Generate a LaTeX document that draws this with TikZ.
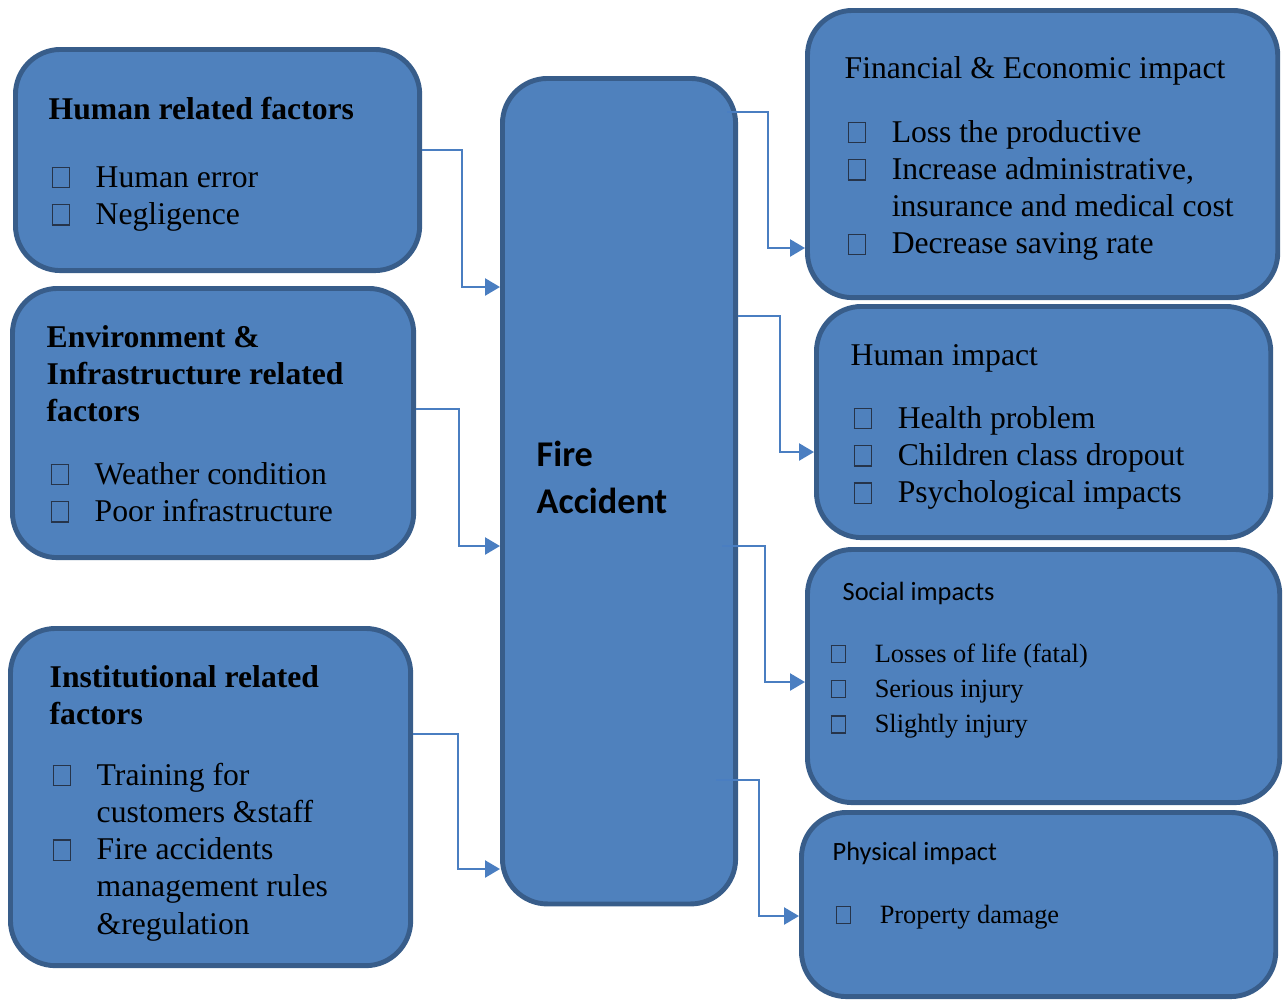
\documentclass[tikz,border=0pt]{standalone}
\usepackage{fontspec}
\setmainfont{Liberation Serif}
\newfontfamily\calibri{Carlito}
\usetikzlibrary{arrows.meta}
\usetikzlibrary{calc}
\definecolor{boxfill}{RGB}{79,129,189}
\definecolor{boxline}{RGB}{56,93,138}
\definecolor{linkblue}{RGB}{74,126,193}
\definecolor{bxline}{RGB}{38,52,74}
\newcommand{\fsA}{\fontsize{9}{10.6}\selectfont}
\newcommand{\fsB}{\fontsize{7.5}{10}\selectfont}
\newcommand{\bx}{\textcolor{bxline}{\fboxsep=0pt\fboxrule=0.35pt\fbox{\rule{0pt}{0.6em}\hspace{0.5em}}}}
\newcommand{\itm}{\makebox[0.44cm][l]{\bx}}
\tikzset{blk/.style = {draw=boxline, fill=boxfill, line width=1.4pt, rounded corners=0.45cm, inner sep=0pt, anchor=north west}}
\tikzset{txt/.style = {anchor=base west, inner sep=0pt, font=\fsA}}
\tikzset{link/.style = {draw=linkblue, line width=0.7pt, -{Triangle[length=0.15cm,width=0.17cm]}}}
\begin{document}
\begin{tikzpicture}[x=0.01cm, y=-0.01cm]
        \useasboundingbox (0,0) rectangle (1283,1000);
        % boxes
        \node[blk, minimum width=4.04cm, minimum height=2.21cm] (hum) at (13,47) {};
        \node[blk, minimum width=4.01cm, minimum height=2.69cm] (env) at (10,286) {};
        \node[blk, minimum width=4.00cm, minimum height=3.37cm] (inst) at (8,626) {};
        \node[blk, minimum width=2.33cm, minimum height=8.25cm] (fire) at (500,76) {};
        \node[blk, minimum width=4.70cm, minimum height=2.87cm] (fin) at (805,8) {};
        \node[blk, minimum width=4.54cm, minimum height=2.31cm] (himp) at (814,304) {};
        \node[blk, minimum width=4.72cm, minimum height=2.53cm] (soc) at (805,547) {};
        \node[blk, minimum width=4.74cm, minimum height=1.84cm] (phys) at (799,810) {};
        % connectors
        \draw[link] (hum.east |- 0,150) -| (462,287) -- (fire.west |- 0,287);
        \draw[link] (env.east |- 0,409) -| (459,546) -- (fire.west |- 0,546);
        \draw[link] (inst.east |- 0,734) -| (458,869) -- (fire.west |- 0,869);
        \draw[link] ($(fire.east |- 0,112)+(-11,0)$) -| (768,248) -- (fin.west |- 0,248);
        \draw[link] (fire.east |- 0,316) -| (780,452) -- (himp.west |- 0,452);
        \draw[link] ($(fire.east |- 0,546)+(-16,0)$) -| (765,682) -- (soc.west |- 0,682);
        \draw[link] ($(fire.east |- 0,780)+(-22,0)$) -| (759,916) -- (phys.west |- 0,916);
        % texts
        \node[txt, font=\fsA\bfseries] (humh) at (48,119) {Human related factors};
        \node[txt] (huml) at (51,187) {\begin{tabular}[t]{@{}l@{}l@{}}\itm & Human error\\ \itm & Negligence\end{tabular}};
        \node[txt, font=\fsA\bfseries] (envh) at (46,347) {\begin{tabular}[t]{@{}l@{}}Environment \&\\ Infrastructure related\\ factors\end{tabular}};
        \node[txt] (envl) at (50,484) {\begin{tabular}[t]{@{}l@{}l@{}}\itm & Weather condition\\ \itm & Poor infrastructure\end{tabular}};
        \node[txt, font=\fsA\bfseries] (insth) at (49,687) {\begin{tabular}[t]{@{}l@{}}Institutional related\\ factors\end{tabular}};
        \node[txt] (instl) at (52,785) {\begin{tabular}[t]{@{}l@{}l@{}}\itm & Training for\\ & customers \&staff\\ \itm & Fire accidents\\ & management rules\\ & \&regulation\end{tabular}};
        \node[txt, font=\fontsize{10.3}{13.6}\selectfont\calibri\bfseries] (firet) at (536,466) {\begin{tabular}[t]{@{}l@{}}Fire\\ Accident\end{tabular}};
        \node[txt] (finh) at (844,78) {Financial \& Economic impact};
        \node[txt] (finl) at (847,142) {\begin{tabular}[t]{@{}l@{}l@{}}\itm & Loss the productive\\ \itm & Increase administrative,\\ & insurance and medical cost\\ \itm & Decrease saving rate\end{tabular}};
        \node[txt] (himph) at (850,365) {Human impact};
        \node[txt] (himpl) at (853,428) {\begin{tabular}[t]{@{}l@{}l@{}}\itm & Health problem\\ \itm & Children class dropout\\ \itm & Psychological impacts\end{tabular}};
        \node[txt, font=\fsB\calibri] (soch) at (842,600) {Social impacts};
        \node[txt, font=\fsB] (socl) at (830,662) {\begin{tabular}[t]{@{}l@{}l@{}}\itm & Losses of life (fatal)\\ \itm & Serious injury\\ \itm & Slightly injury\end{tabular}};
        \node[txt, font=\fsB\calibri] (physh) at (832,860) {Physical impact};
        \node[txt, font=\fsB] (physl) at (835,923) {\begin{tabular}[t]{@{}l@{}l@{}}\itm & Property damage\end{tabular}};
    \end{tikzpicture}
\end{document}
